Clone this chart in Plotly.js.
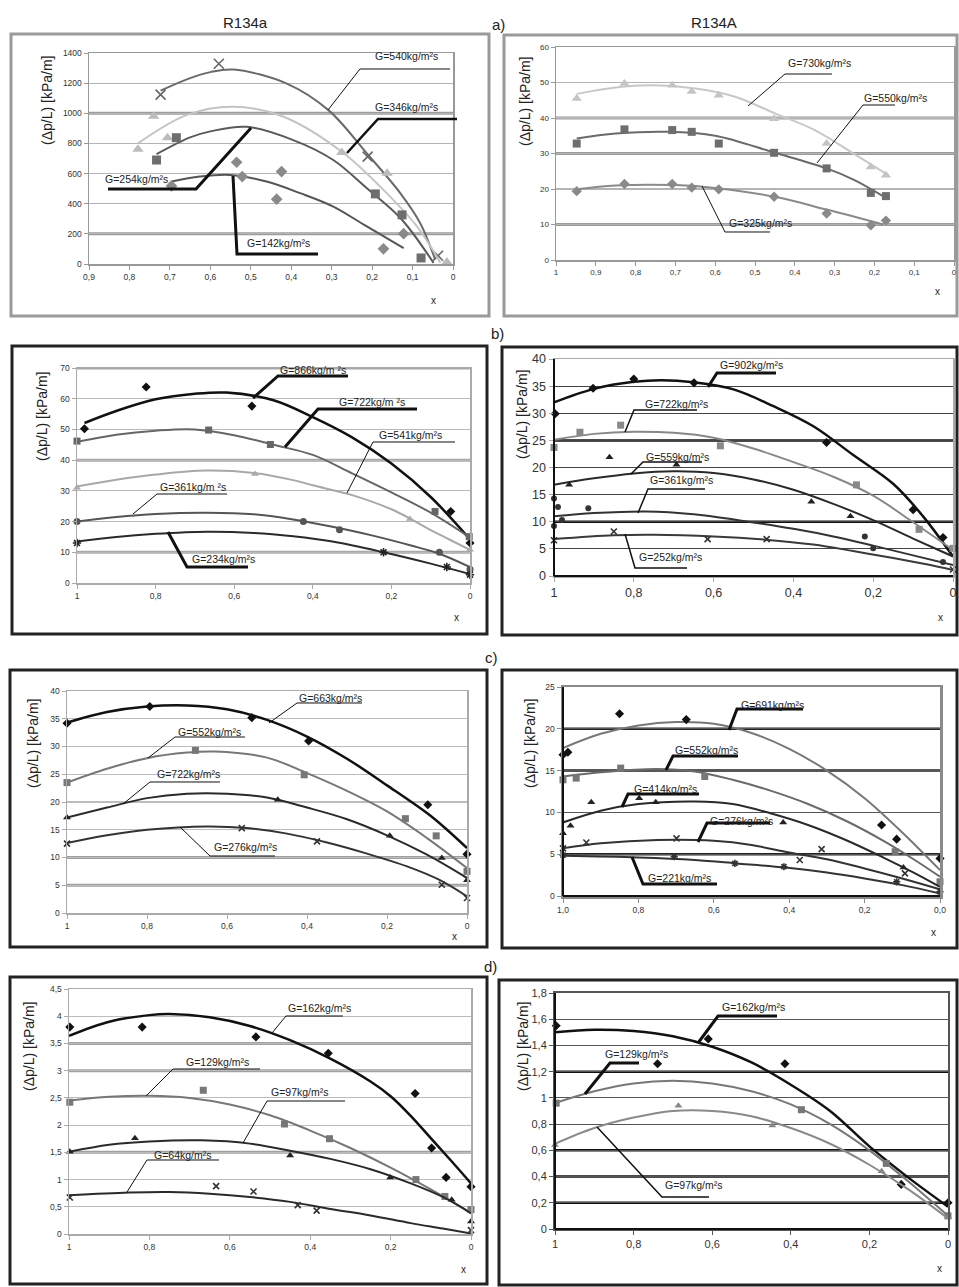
<!DOCTYPE html>
<html><head><meta charset="utf-8">
<script src="https://cdn.plot.ly/plotly-3.0.1.min.js"></script>
<style>html,body{margin:0;padding:0;background:#fff}#chart{width:959px;height:1287px}</style>
</head><body><div id="chart"></div>
<script>
// ---------- tick labels ----------
const aL_xt=[0.9,0.8,0.7,0.6,0.5,0.4,0.3,0.2,0.1,0];
const aL_xtt=["0,9","0,8","0,7","0,6","0,5","0,4","0,3","0,2","0,1","0"];
const aL_yt=[0,200,400,600,800,1000,1200,1400];
const aR_xt=[1,0.9,0.8,0.7,0.6,0.5,0.4,0.3,0.2,0.1,0];
const aR_xtt=["1","0,9","0,8","0,7","0,6","0,5","0,4","0,3","0,2","0,1","0"];
const aR_yt=[0,10,20,30,40,50,60];
const x5_t=[1,0.8,0.6,0.4,0.2,0];
const x5_tt=["1","0,8","0,6","0,4","0,2","0"];
const cR_xtt=["1,0","0,8","0,6","0,4","0,2","0,0"];
const bL_yt=[0,10,20,30,40,50,60,70];
const bR_yt=[0,5,10,15,20,25,30,35,40];
const cL_yt=[0,5,10,15,20,25,30,35,40];
const cR_yt=[0,5,10,15,20,25];
const dL_yt=[0,0.5,1,1.5,2,2.5,3,3.5,4,4.5];
const dL_ytt=["0","0,5","1","1,5","2","2,5","3","3,5","4","4,5"];
const dR_yt=[0,0.2,0.4,0.6,0.8,1,1.2,1.4,1.6,1.8];
const dR_ytt=["0","0,2","0,4","0,6","0,8","1","1,2","1,4","1,6","1,8"];

// ---------- a) left, R134a ----------
const aL_540_x=[0.723,0.579,0.211,0.037], aL_540_y=[1124,1329,712,55];
const aL_540_cx=[0.723,0.65,0.6,0.543,0.411,0.308,0.213,0.13,0.081,0.044], aL_540_cy=[1150,1233,1273,1290,1197,1021,734,469,271,29];
const aL_346_x=[0.779,0.740,0.706,0.275,0.163,0.015], aL_346_y=[761,981,838,739,602,13];
const aL_346_cx=[0.779,0.659,0.543,0.419,0.275,0.172,0.089,0.031], aL_346_cy=[800,988,1043,977,745,492,249,7];
const aL_254_x=[0.733,0.684,0.192,0.126,0.079], aL_254_y=[690,838,465,326,40];
const aL_254_cx=[0.733,0.65,0.6,0.51,0.395,0.296,0.213,0.13,0.048], aL_254_cy=[729,840,880,910,822,690,502,305,7];
const aL_142_x=[0.696,0.535,0.521,0.424,0.436,0.172,0.122], aL_142_y=[518,675,580,613,430,101,201];
const aL_142_cx=[0.696,0.626,0.551,0.461,0.378,0.296,0.213,0.122], aL_142_cy=[547,580,591,547,470,381,249,106];

// ---------- a) right, R134A ----------
const aR_px=[0.948,0.828,0.708,0.659,0.591,0.452,0.320,0.209,0.171];
const aR_730_y=[45.5,49.7,49.2,47.5,46.4,39.8,32.8,26.2,23.9];
const aR_730_cx=[0.948,0.85,0.76,0.65,0.55,0.45,0.35,0.25,0.165], aR_730_cy=[46.8,48.6,49.2,48.3,46,41.3,36.6,29.8,23.9];
const aR_550_y=[32.8,36.8,36.6,36.1,32.8,30.2,25.8,18.9,18.0];
const aR_550_cx=[0.948,0.85,0.72,0.6,0.45,0.32,0.25,0.171], aR_550_cy=[34.2,35.6,36.1,35,30.2,25.8,22.5,17.5];
const aR_325_y=[19.4,21.4,21.4,20.4,19.9,17.8,13.1,9.8,11.1];
const aR_325_cx=[0.948,0.85,0.7,0.6,0.45,0.32,0.178], aR_325_cy=[19.9,21,21.1,20.3,17.8,14.2,10];

// ---------- b) left ----------
const bL_866_x=[0.981,0.824,0.555,0.049,0], bL_866_y=[50.2,63.8,57.6,23.3,13.0];
const bL_866_cx=[0.981,0.9,0.8,0.7,0.62,0.5,0.4,0.3,0.2,0.1,0], bL_866_cy=[52.1,56,59.8,61.6,62,59.5,54,47.4,38.9,28,14.2];
const bL_722_x=[1,0.665,0.508,0.089,0.002], bL_722_y=[46.2,49.8,45.1,23.3,15.1];
const bL_722_cx=[1,0.9,0.8,0.7,0.6,0.5,0.4,0.3,0.2,0.1,0], bL_722_cy=[46,48.3,49.6,50,48.1,45,41.7,35.7,29.5,22.9,14.8];
const bL_541_x=[1,0.547,0.153,0], bL_541_y=[31,35.5,20.8,10.8];
const bL_541_cx=[1,0.9,0.8,0.67,0.55,0.45,0.4,0.3,0.2,0.15,0.1,0.05,0], bL_541_cy=[31.4,33.6,35.3,36.6,35.8,33.5,31.8,28.6,24,20.8,17.2,14,10.8];
const bL_361_x=[1,0.424,0.332,0.078,0], bL_361_y=[20,20,17.3,10,4.5];
const bL_361_cx=[1,0.9,0.8,0.67,0.55,0.45,0.35,0.25,0.15,0.08,0], bL_361_cy=[20,21.5,22.5,22.9,22.4,20.7,18.3,15.5,12.2,9.6,5.2];
const bL_234_x=[1,0.22,0.059,0], bL_234_y=[13,10,5.2,2.7];
const bL_234_cx=[1,0.9,0.8,0.67,0.55,0.45,0.35,0.22,0.1,0], bL_234_cy=[13.5,15,16,16.7,16.3,15.2,13.5,10,6.3,2.9];

// ---------- b) right ----------
const bR_902_x=[0.997,0.902,0.8,0.649,0.317,0.1,0.025], bR_902_y=[29.9,34.6,36.3,35.6,24.6,12.2,7.1];
const bR_902_cx=[1,0.9,0.8,0.73,0.65,0.55,0.45,0.35,0.25,0.15,0.075,0], bR_902_cy=[32,34.5,35.8,36.1,35.7,34.4,31.3,27.6,22.3,17,11,3.6];
const bR_722_x=[1,0.935,0.833,0.583,0.242,0.085,0], bR_722_y=[23.7,26.5,27.8,24,16.8,8.6,5.1];
const bR_722_cx=[1,0.9,0.8,0.7,0.6,0.5,0.4,0.3,0.2,0.1,0], bR_722_cy=[25.1,26.2,26.6,26.4,25.5,23.5,21,18.3,14.8,9.9,4.8];
const bR_559_x=[0.962,0.861,0.693,0.355,0.257], bR_559_y=[16.8,21.9,20.5,13.7,11];
const bR_559_cx=[1,0.9,0.8,0.7,0.6,0.5,0.4,0.3,0.2,0.1,0], bR_559_cy=[16.8,18,18.9,19.3,19,17.8,15.9,13.3,10.3,6.9,3.6];
const bR_361_x=[1,0.99,0.914,0.98,1,0.221,0.2,0.025], bR_361_y=[14.3,12.7,12.5,10.3,9.2,7.3,5.1,2.6];
const bR_361_cx=[1,0.9,0.77,0.65,0.53,0.4,0.3,0.2,0.1,0], bR_361_cy=[11,11.6,11.9,11.4,10.2,8.7,7.3,5.6,3.8,2];
const bR_252_x=[1,0.85,0.615,0.467,0], bR_252_y=[6.6,8.2,6.8,6.8,1.2];
const bR_252_cx=[1,0.85,0.75,0.6,0.47,0.35,0.25,0.15,0.07,0], bR_252_cy=[6.8,7.5,7.6,7.3,6.7,5.8,4.6,3.3,2.2,1.1];

// ---------- c) left ----------
const cL_663_x=[1,0.793,0.538,0.396,0.098,0], cL_663_y=[34.2,37.2,35.2,31,19.5,10.6];
const cL_663_cx=[1,0.9,0.8,0.7,0.6,0.5,0.4,0.3,0.2,0.1,0.05,0], cL_663_cy=[34.3,36.2,37.2,37.4,36.7,34.8,31.8,27.8,23,18,15,11.7];
const cL_552_x=[1,0.679,0.407,0.154,0.077,0], cL_552_y=[23.5,29.3,24.9,17,13.9,7.5];
const cL_552_cx=[1,0.9,0.8,0.7,0.63,0.5,0.4,0.3,0.2,0.1,0], cL_552_cy=[23.5,26,27.9,28.9,29.1,28,25.2,22,18.3,13.5,8.1];
const cL_722_x=[1,0.473,0.193,0.063,0], cL_722_y=[17.2,20.4,13.9,9.9,5.9];
const cL_722_cx=[1,0.9,0.8,0.7,0.6,0.5,0.4,0.3,0.2,0.1,0], cL_722_cy=[17.2,19,20.7,21.5,21.5,20.8,19,16.9,14,10.5,6.3];
const cL_276_x=[1,0.563,0.375,0.063,0], cL_276_y=[12.5,15.3,12.9,5.1,2.7];
const cL_276_cx=[1,0.9,0.8,0.65,0.55,0.45,0.35,0.25,0.15,0.07,0], cL_276_cy=[12.6,14,15,15.6,15.3,14.3,12.7,10.7,8.4,6,3];

// ---------- c) right ----------
const cR_691_x=[1,0.987,0.85,0.673,0.155,0.115,0], cR_691_y=[16.9,17.2,21.8,21.1,8.5,6.8,4.5];
const cR_691_cx=[1,0.9,0.8,0.7,0.6,0.5,0.4,0.3,0.2,0.1,0], cR_691_cy=[17.7,19.4,20.4,20.8,20.6,19.5,17.6,15,11.7,7.6,3.1];
const cR_552_x=[1,0.965,0.847,0.624,0.119,0], cR_552_y=[13.9,14.1,15.3,14.3,5.3,1.7];
const cR_552_cx=[1,0.9,0.75,0.65,0.55,0.45,0.35,0.25,0.15,0.07,0], cR_552_cy=[14.3,14.8,15.2,14.9,13.9,12.6,11,9,6.6,4.4,2.3];
const cR_414_x=[1,0.98,0.925,0.798,0.754,0.416,0.097], cR_414_y=[7.5,8.4,11.2,11.7,11.2,8.8,3.4];
const cR_414_cx=[1,0.9,0.8,0.65,0.55,0.45,0.35,0.25,0.15,0.07,0], cR_414_cy=[8.8,10.2,11,11.3,11,9.9,8.5,6.7,4.6,2.8,1.1];
const cR_276_x=[1,0.938,0.699,0.372,0.314,0.093], cR_276_y=[5.7,6.4,6.9,4.3,5.6,2.7];
const cR_276_cx=[1,0.9,0.75,0.6,0.5,0.4,0.3,0.2,0.1,0], cR_276_cy=[5.7,6.3,6.7,6.6,6.1,5.2,4.4,3.3,2.1,0.8];
const cR_221_x=[1,0.705,0.544,0.414,0.115,0], cR_221_y=[4.9,4.7,3.9,3.5,1.7,0.5];
const cR_221_cx=[1,0.8,0.65,0.54,0.41,0.3,0.2,0.1,0], cR_221_cy=[4.8,4.6,4.3,3.9,3.4,2.8,2.1,1.3,0.3];

// ---------- d) left ----------
const dL_162_x=[0.998,0.818,0.535,0.355,0.139,0.098,0.062,0], dL_162_y=[3.8,3.8,3.62,3.32,2.58,1.58,1.04,0.87];
const dL_162_cx=[1,0.9,0.8,0.75,0.65,0.55,0.45,0.35,0.25,0.2,0.15,0.1,0.05,0], dL_162_cy=[3.64,3.9,4.02,4.04,3.98,3.82,3.56,3.22,2.8,2.53,2.17,1.76,1.35,0.93];
const dL_129_x=[0.998,0.666,0.464,0.352,0.137,0.065,0], dL_129_y=[2.42,2.64,2.02,1.75,1.0,0.69,0.45];
const dL_129_cx=[1,0.9,0.8,0.7,0.6,0.5,0.4,0.3,0.2,0.1,0], dL_129_cy=[2.45,2.52,2.54,2.5,2.38,2.18,1.9,1.58,1.22,0.82,0.39];
const dL_97_x=[0.998,0.836,0.45,0.201,0.048,0], dL_97_y=[1.51,1.76,1.44,1.04,0.63,0.23];
const dL_97_cx=[1,0.9,0.8,0.67,0.55,0.45,0.35,0.25,0.15,0.07,0], dL_97_cy=[1.51,1.64,1.7,1.72,1.66,1.53,1.38,1.19,0.93,0.68,0.38];
const dL_64_x=[0.998,0.634,0.541,0.431,0.384,0], dL_64_y=[0.67,0.88,0.78,0.53,0.43,0.07];
const dL_64_cx=[1,0.85,0.75,0.65,0.55,0.45,0.35,0.25,0.15,0.07,0], dL_64_cy=[0.71,0.76,0.77,0.74,0.68,0.59,0.46,0.34,0.2,0.1,0.01];

// ---------- d) right ----------
const dR_162_x=[0.997,0.739,0.61,0.415,0.119,0], dR_162_y=[1.55,1.26,1.45,1.26,0.34,0.2];
const dR_162_cx=[1,0.9,0.8,0.7,0.6,0.5,0.4,0.3,0.2,0.1,0], dR_162_cy=[1.5,1.52,1.51,1.47,1.39,1.27,1.1,0.9,0.63,0.39,0.17];
const dR_129_x=[0.997,0.373,0.157,0], dR_129_y=[0.96,0.91,0.5,0.1];
const dR_129_cx=[1,0.9,0.8,0.7,0.6,0.5,0.4,0.3,0.2,0.1,0], dR_129_cy=[0.96,1.05,1.11,1.13,1.11,1.05,0.95,0.8,0.6,0.36,0.1];
const dR_97_x=[1,0.686,0.447,0.169,0], dR_97_y=[0.64,0.94,0.79,0.44,0.09];
const dR_97_cx=[1,0.9,0.8,0.7,0.6,0.5,0.4,0.3,0.2,0.1,0], dR_97_cy=[0.65,0.77,0.85,0.9,0.9,0.86,0.77,0.65,0.49,0.3,0.08];

// ---------- layout helpers ----------
const W=959,H=1287;
const PX=x=>x/W, PY=y=>1-y/H;
const FONT='Arial, "Liberation Sans", sans-serif';
const M2='kg/m²s';
const S=(x,y,cx,cy,sym,mc,lc,ms,lw)=>({x,y,cx,cy,sym,mc,lc,ms:ms||7,lw:lw||2});
const L=(t,at,path,lw)=>({t,at,path,lw:lw||1});

const panels=[
 {box:[11,34,489,316],bc:'#9a9a9a',bw:3,plot:[89,53,453,264],xr:[0.9,0],yr:[0,1400],xt:aL_xt,xtt:aL_xtt,yt:aL_yt,ytt:null,fs:8.5,
  gc:'#b4b4b4',gw:1.2,thick:[1000,200],tc:'#9c9c9c',tw:3,axc:'#999',axw:1.5,lc:null,yt_at:[47,101],xt_at:[433,300],
  series:[S(aL_540_x,aL_540_y,aL_540_cx,aL_540_cy,'x-thin-open','#666','#6a6a6a',10),
          S(aL_346_x,aL_346_y,aL_346_cx,aL_346_cy,'triangle-up','#bcbcbc','#c4c4c4',10),
          S(aL_254_x,aL_254_y,aL_254_cx,aL_254_cy,'square','#6e6e6e','#5a5a5a',9),
          S(aL_142_x,aL_142_y,aL_142_cx,aL_142_cy,'diamond','#8a8a8a','#555',9)],
  labels:[L('G=540'+M2,[373,56],[[450,69],[360,69],[328,110]],1),
          L('G=346'+M2,[373,107],[[457,119],[378,119],[347,153]],2.5),
          L('G=254'+M2,[103,179],[[108,189],[196,189],[251,128]],3),
          L('G=142'+M2,[245,243],[[318,254],[237,254],[233,176]],3)]},
 {box:[504,35,957,316],bc:'#9a9a9a',bw:3,plot:[556,47,954,260],xr:[1,0],yr:[0,60],xt:aR_xt,xtt:aR_xtt,yt:aR_yt,ytt:null,fs:8,
  gc:'#b4b4b4',gw:1.2,thick:[40,30,10],tc:'#9c9c9c',tw:3,axc:'#999',axw:1.5,lc:null,yt_at:[525,102],xt_at:[937,292],
  series:[S(aR_px,aR_730_y,aR_730_cx,aR_730_cy,'triangle-up','#c4c4c4','#c8c8c8',9),
          S(aR_px,aR_550_y,aR_550_cx,aR_550_cy,'square','#6e6e6e','#6a6a6a',8),
          S(aR_px,aR_325_y,aR_325_cx,aR_325_cy,'diamond','#8a8a8a','#8a8a8a',8)],
  labels:[L('G=730'+M2,[786,63],[[832,74],[785,74],[748,106]],1),
          L('G=550'+M2,[862,98],[[895,105],[863,105],[817,163]],1),
          L('G=325'+M2,[727,223],[[770,232],[725,232],[702,186]],1)]},
 {box:[12,346,487,634],bc:'#222',bw:3,plot:[77,368,470,583],xr:[1,0],yr:[0,70],xt:x5_t,xtt:x5_tt,yt:bL_yt,ytt:null,fs:8.5,
  gc:'#b8b8b8',gw:1.2,thick:[70,40,10],tc:'#a8a8a8',tw:3,axc:'#aaa',axw:1.5,lc:null,yt_at:[42,417],xt_at:[456,618],
  series:[S(bL_866_x,bL_866_y,bL_866_cx,bL_866_cy,'diamond','#111','#111',7,2.5),
          S(bL_722_x,bL_722_y,bL_722_cx,bL_722_cy,'square','#666','#666',7),
          S(bL_541_x,bL_541_y,bL_541_cx,bL_541_cy,'triangle-up','#aaa','#a8a8a8',7),
          S(bL_361_x,bL_361_y,bL_361_cx,bL_361_cy,'circle','#555','#555',7),
          S(bL_234_x,bL_234_y,bL_234_cx,bL_234_cy,'asterisk-open','#222','#2a2a2a',7)],
  labels:[L('G=866kg/m ²s',[278,370],[[348,376],[278,376],[253,398]],3),
          L('G=722kg/m ²s',[337,402],[[417,409],[318,409],[285,447]],3),
          L('G=541'+M2,[377,435],[[455,442],[373,442],[347,493]],1),
          L('G=361kg/m ²s',[158,487],[[227,494],[157,494],[133,514]],1),
          L('G=234kg/m²s',[190,559],[[248,567],[187,567],[168,532]],3)]},
 {box:[502,347,957,635],bc:'#222',bw:3,plot:[554,359,953,576],xr:[1,0],yr:[0,40],xt:x5_t,xtt:x5_tt,yt:bR_yt,ytt:null,fs:12.5,
  gc:'#444',gw:1,thick:[25,10],tc:'#111',tw:2.5,axc:'#aaa',axw:1.5,lc:'#111',yt_at:[522,415],xt_at:[940,617],
  series:[S(bR_902_x,bR_902_y,bR_902_cx,bR_902_cy,'diamond','#111','#111',7,2.5),
          S(bR_722_x,bR_722_y,bR_722_cx,bR_722_cy,'square','#888','#888',7),
          S(bR_559_x,bR_559_y,bR_559_cx,bR_559_cy,'triangle-up','#222','#2a2a2a',7),
          S(bR_361_x,bR_361_y,bR_361_cx,bR_361_cy,'circle','#333','#333',6),
          S(bR_252_x,bR_252_y,bR_252_cx,bR_252_cy,'x-thin-open','#333','#3a3a3a',6)],
  labels:[L('G=902'+M2,[718,365],[[776,373],[717,373],[708,387]],3),
          L('G=722'+M2,[643,404],[[697,410],[634,410],[625,432]],1.5),
          L('G=559'+M2,[644,457],[[702,462],[643,462],[631,474]],1.5),
          L('G=361'+M2,[648,480],[[705,489],[648,489],[638,513]],1.5),
          L('G=252'+M2,[637,557],[[687,568],[635,568],[625,534]],1.5)]},
 {box:[10,670,487,947],bc:'#222',bw:3,plot:[67,691,467,913],xr:[1,0],yr:[0,40],xt:x5_t,xtt:x5_tt,yt:cL_yt,ytt:null,fs:8.5,
  gc:'#bcbcbc',gw:1.2,thick:[10,5],tc:'#a0a0a0',tw:3,axc:'#aaa',axw:1.5,lc:null,yt_at:[33,744],xt_at:[454,936],
  series:[S(cL_663_x,cL_663_y,cL_663_cx,cL_663_cy,'diamond','#111','#111',7,2.5),
          S(cL_552_x,cL_552_y,cL_552_cx,cL_552_cy,'square','#777','#777',7),
          S(cL_722_x,cL_722_y,cL_722_cx,cL_722_cy,'triangle-up','#222','#2a2a2a',7),
          S(cL_276_x,cL_276_y,cL_276_cx,cL_276_cy,'x-thin-open','#333','#333',6)],
  labels:[L('G=663'+M2,[297,698],[[362,703],[297,703],[269,723]],1),
          L('G=552'+M2,[176,732],[[245,737],[175,737],[148,758]],1),
          L('G=722'+M2,[155,774],[[220,782],[150,782],[123,804]],1),
          L('G=276'+M2,[212,847],[[275,856],[210,856],[180,827]],1)]},
 {box:[502,670,957,948],bc:'#222',bw:3,plot:[563,687,940,896],xr:[1,0],yr:[0,25],xt:x5_t,xtt:cR_xtt,yt:cR_yt,ytt:null,fs:8.5,
  gc:'#555',gw:1,thick:[15,20,5],tc:'#222',tw:2.5,axc:'#8a8a8a',axw:2.5,lc:'#111',yt_at:[530,744],xt_at:[933,932],
  series:[S(cR_691_x,cR_691_y,cR_691_cx,cR_691_cy,'diamond','#111','#777',7),
          S(cR_552_x,cR_552_y,cR_552_cx,cR_552_cy,'square','#777','#6a6a6a',7),
          S(cR_414_x,cR_414_y,cR_414_cx,cR_414_cy,'triangle-up','#222','#2a2a2a',7),
          S(cR_276_x,cR_276_y,cR_276_cx,cR_276_cy,'x-thin-open','#333','#333',6),
          S(cR_221_x,cR_221_y,cR_221_cx,cR_221_cy,'asterisk-open','#333','#333',6)],
  labels:[L('G=691'+M2,[739,705],[[803,709],[737,709],[729,730]],3),
          L('G=552'+M2,[673,750],[[738,756],[673,756],[666,770]],3),
          L('G=414'+M2,[632,789],[[699,794],[628,794],[622,807]],3),
          L('G=276'+M2,[708,821],[[770,823],[707,823],[698,842]],3),
          L('G=221'+M2,[646,878],[[717,884],[643,884],[632,857]],3)]},
 {box:[10,977,487,1284],bc:'#222',bw:3,plot:[69,989,471,1234],xr:[1,0],yr:[0,4.5],xt:x5_t,xtt:x5_tt,yt:dL_yt,ytt:dL_ytt,fs:8.5,
  gc:'#bcbcbc',gw:1.2,thick:[3.5,3,1.5],tc:'#a0a0a0',tw:3,axc:'#aaa',axw:1.5,lc:null,yt_at:[29,1047],xt_at:[463,1269],
  series:[S(dL_162_x,dL_162_y,dL_162_cx,dL_162_cy,'diamond','#111','#111',7,2.5),
          S(dL_129_x,dL_129_y,dL_129_cx,dL_129_cy,'square','#777','#777',7),
          S(dL_97_x,dL_97_y,dL_97_cx,dL_97_cy,'triangle-up','#222','#2a2a2a',7),
          S(dL_64_x,dL_64_y,dL_64_cx,dL_64_cy,'x-thin-open','#333','#2a2a2a',6)],
  labels:[L('G=162'+M2,[286,1008],[[343,1016],[286,1016],[272,1033]],1),
          L('G=129'+M2,[184,1062],[[260,1069],[173,1069],[146,1096]],1),
          L('G=97'+M2,[269,1092],[[345,1101],[267,1101],[243,1143]],1),
          L('G=64'+M2,[152,1155],[[219,1160],[147,1160],[127,1192]],1)]},
 {box:[499,980,957,1285],bc:'#222',bw:3,plot:[555,993,948,1229],xr:[1,0],yr:[0,1.8],xt:x5_t,xtt:x5_tt,yt:dR_yt,ytt:dR_ytt,fs:11,
  gc:'#555',gw:1,thick:[1.2,0.6,0.4,0.2],tc:'#111',tw:2.5,axc:'#555',axw:2,lc:'#111',yt_at:[523,1047],xt_at:[939,1268],
  series:[S(dR_162_x,dR_162_y,dR_162_cx,dR_162_cy,'diamond','#111','#111',7,2.5),
          S(dR_129_x,dR_129_y,dR_129_cx,dR_129_cy,'square','#777','#777',7),
          S(dR_97_x,dR_97_y,dR_97_cx,dR_97_cy,'triangle-up','#888','#8a8a8a',7)],
  labels:[L('G=162'+M2,[720,1007],[[777,1016],[718,1016],[698,1043]],3),
          L('G=129'+M2,[603,1054],[[639,1063],[610,1063],[585,1094]],3),
          L('G=97'+M2,[663,1185],[[709,1197],[662,1197],[597,1127]],1.5)]}
];

const traces=[];
const layout={width:W,height:H,margin:{l:0,r:0,t:0,b:0,pad:0},paper_bgcolor:'#fff',plot_bgcolor:'#fff',
  showlegend:false,font:{family:FONT,color:'#333'},shapes:[],annotations:[]};

panels.forEach((p,i)=>{
  const n=i+1, sfx=n>1?String(n):'';
  const xa='x'+sfx, ya='y'+sfx;
  layout['xaxis'+sfx]={domain:[PX(p.plot[0]),PX(p.plot[2])],anchor:ya,range:p.xr,tickmode:'array',tickvals:p.xt,ticktext:p.xtt,
    showgrid:false,zeroline:false,showline:true,mirror:true,linecolor:p.axc,linewidth:p.axw,ticks:'outside',ticklen:4,tickcolor:p.axc,
    tickfont:{size:p.fs,color:'#333',family:FONT},fixedrange:true};
  const ya_def={domain:[PY(p.plot[3]),PY(p.plot[1])],anchor:xa,range:p.yr,tickmode:'array',tickvals:p.yt,
    showgrid:true,gridcolor:p.gc,gridwidth:p.gw,zeroline:false,showline:true,mirror:true,linecolor:p.axc,linewidth:p.axw,
    ticks:'outside',ticklen:4,tickcolor:p.axc,tickfont:{size:p.fs,color:'#333',family:FONT},fixedrange:true};
  if(p.ytt) ya_def.ticktext=p.ytt;
  layout['yaxis'+sfx]=ya_def;
  // emphasized grid lines
  p.thick.forEach(v=>layout.shapes.push({type:'line',xref:xa+' domain',yref:ya,x0:0,x1:1,y0:v,y1:v,layer:'below',line:{color:p.tc,width:p.tw}}));
  // dark left / bottom axis lines where the original has them
  if(p.lc){
    layout.shapes.push({type:'line',xref:xa+' domain',yref:ya+' domain',x0:0,x1:0,y0:0,y1:1,line:{color:p.lc,width:2}});
    layout.shapes.push({type:'line',xref:xa+' domain',yref:ya+' domain',x0:0,x1:1,y0:0,y1:0,line:{color:p.lc,width:2}});
  }
  // panel frame
  layout.shapes.push({type:'rect',xref:'paper',yref:'paper',x0:PX(p.box[0]),x1:PX(p.box[2]),y0:PY(p.box[3]),y1:PY(p.box[1]),line:{color:p.bc,width:p.bw}});
  // series
  p.series.forEach(s=>{
    traces.push({type:'scatter',mode:'lines',x:s.cx,y:s.cy,xaxis:xa,yaxis:ya,line:{color:s.lc,width:s.lw,shape:'spline',smoothing:1},hoverinfo:'skip',cliponaxis:false});
    const open=s.sym.indexOf('open')>=0;
    traces.push({type:'scatter',mode:'markers',x:s.x,y:s.y,xaxis:xa,yaxis:ya,cliponaxis:false,
      marker:{symbol:s.sym,size:s.ms,color:s.mc,line:{color:s.mc,width:open?1.6:0}}});
  });
  // labels with leader lines
  p.labels.forEach(l=>{
    layout.annotations.push({xref:'paper',yref:'paper',x:PX(l.at[0]),y:PY(l.at[1]),xanchor:'left',yanchor:'middle',showarrow:false,
      text:l.t,font:{size:10.5,color:'#222',family:FONT}});
    const d=l.path.map((pt,k)=>(k?'L':'M')+PX(pt[0]).toFixed(5)+','+PY(pt[1]).toFixed(5)).join(' ');
    layout.shapes.push({type:'path',xref:'paper',yref:'paper',path:d,line:{color:'#111',width:l.lw}});
  });
  // axis titles
  layout.annotations.push({xref:'paper',yref:'paper',x:PX(p.yt_at[0]),y:PY(p.yt_at[1]),textangle:-90,showarrow:false,
    xanchor:'center',yanchor:'middle',text:'(Δp/L) [kPa/m]',font:{size:14,color:'#222',family:FONT}});
  layout.annotations.push({xref:'paper',yref:'paper',x:PX(p.xt_at[0]),y:PY(p.xt_at[1]),showarrow:false,
    xanchor:'center',yanchor:'middle',text:'x',font:{size:10,color:'#222',family:FONT}});
});

// headers
[['R134a',245,22],['R134A',714,22],['a)',498,24],['b)',497,334],['c)',491,657],['d)',490,966]].forEach(h=>{
  layout.annotations.push({xref:'paper',yref:'paper',x:PX(h[1]),y:PY(h[2]),showarrow:false,xanchor:'center',yanchor:'middle',
    text:h[0],font:{size:15,color:'#222',family:FONT}});
});

Plotly.newPlot('chart',traces,layout,{staticPlot:true,displayModeBar:false});
</script>
</body></html>
